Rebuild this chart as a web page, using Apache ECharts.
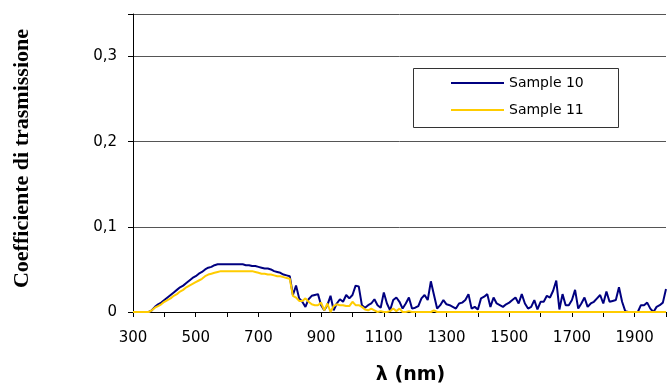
<!DOCTYPE html>
<html>
<head>
<meta charset="utf-8">
<script src="https://cdn.jsdelivr.net/npm/echarts@6/dist/echarts.min.js"></script>
<style>html,body{margin:0;padding:0;background:#fff}#c{width:667px;height:385px}</style>
</head>
<body>
<div id="c"></div>
<script>
// Wavelength grid (nm), 10 nm step
const WL_START = 300, WL_END = 2000, WL_STEP = 10;
const wavelengths = [];
for (let w = WL_START; w <= WL_END; w += WL_STEP) wavelengths.push(w);

const seriesNames = ['Sample 10', 'Sample 11'];

const sample10 = [
  0,0,0,0,0,0,
  0.002,0.006,0.009,0.011,0.014,0.017,0.020,0.023,0.026,0.029,0.031,0.034,0.037,0.040,0.042,0.045,0.047,0.050,0.052,0.053,0.055,0.056,
  0.056,0.056,0.056,0.056,0.056,0.056,0.056,0.056,0.055,0.055,0.054,0.054,0.053,0.052,0.051,0.051,0.050,0.048,0.047,0.046,0.044,0.043,0.042,
  0.020,0.031,0.016,0.012,0.006,0.015,0.019,0.020,0.021,0.008,0.002,0.008,0.019,0.002,0.010,0.015,0.012,0.020,0.016,0.020,
  0.031,0.030,0.008,0.005,0.008,0.010,0.015,0.008,0.005,0.023,
  0.010,0.002,0.014,0.017,0.012,0.004,0.010,0.017,0.004,0.005,
  0.007,0.016,0.020,0.014,0.036,0.020,0.004,0.008,0.014,0.009,
  0.008,0.006,0.004,0.010,0.011,0.014,0.021,0.004,0.006,0.003,
  0.016,0.018,0.021,0.006,0.017,0.010,0.008,0.006,0.009,0.011,
  0.014,0.017,0.010,0.021,0.010,0.004,0.006,0.014,0.003,0.012,
  0.012,0.019,0.017,0.025,0.037,0.003,0.021,0.008,0.008,0.014,
  0.026,0.004,0.010,0.017,0.006,0.010,0.012,0.016,0.020,0.010,
  0.024,0.012,0.013,0.014,0.029,0.012,0.001,0,0,0,
  0,0.008,0.008,0.011,0.004,0,0.006,0.008,0.011,0.027
];

const sample11 = [
  0,0,0,0,0,0,
  0.002,0.005,0.007,0.009,0.012,0.014,0.016,0.019,0.021,0.024,0.026,0.029,0.031,0.033,0.035,0.037,0.039,0.042,0.044,0.045,0.046,0.047,0.048,
  0.048,0.048,0.048,0.048,0.048,0.048,0.048,0.048,0.048,0.048,
  0.047,0.046,0.045,0.045,0.044,0.044,0.043,0.042,0.042,0.041,0.040,0.039,
  0.019,0.017,0.013,0.013,0.016,0.012,0.009,0.008,0.008,0.011,
  0.002,0.010,0,0.007,0.009,0.008,0.008,0.007,0.007,0.012,
  0.008,0.008,0.006,0.003,0.002,0.004,0.002,0,0.001,0,
  0,0.001,0.004,0.001,0.004,0,0,0.001,0,0,
  0,0,0,0,0,0.002,
  0,0,0,0,0,0,0,0,0,0,0,0,0,0,0,0,0,0,0,0,0,0,0,0,0,0,0,0,0,0,0,0,0,0,0,0,0,0,0,0,
  0,0,0,0,0,0,0,0,0,0,0,0,0,0,0,0,0,0,0,0,0,0,0,0,0,0,0,0,0,0,0,0,0,0
];

const yTicks = [0, 0.1, 0.2, 0.3];
const xLabelTicks = [300, 500, 700, 900, 1100, 1300, 1500, 1700, 1900];

const pair = (vals) => wavelengths.map((w, i) => [w, vals[i]]);

const chart = echarts.init(document.getElementById('c'), null, {renderer: 'canvas'});
const labelFont = {fontFamily: 'DejaVu Sans', fontSize: 15, color: '#000'};

chart.setOption({
  animation: false,
  backgroundColor: '#fff',
  grid: {left: 133, right: 1, top: 14, bottom: 73, containLabel: false, outerBoundsMode: 'none'},
  xAxis: {
    type: 'value', min: 300, max: 2000, interval: 100,
    name: 'λ (nm)', nameLocation: 'middle', nameGap: 54,
    nameTextStyle: {fontFamily: 'DejaVu Sans', fontWeight: 'bold', fontSize: 19, color: '#000', padding: [0, 0, 0, 22]},
    axisLine: {show: true, lineStyle: {color: '#000', width: 1}},
    axisTick: {show: true, inside: false, length: 5, lineStyle: {color: '#000'}},
    axisLabel: Object.assign({margin: 19, formatter: v => xLabelTicks.includes(v) ? String(v) : ''}, labelFont),
    splitLine: {show: false}
  },
  yAxis: {
    type: 'value', min: 0, max: 0.35, interval: 0.1,
    name: 'Coefficiente di trasmissione', nameLocation: 'middle', nameGap: 100, nameRotate: 90,
    nameTextStyle: {fontFamily: 'Liberation Serif', fontWeight: 'bold', fontSize: 22, color: '#000', padding: [0, 0, 0, 9]},
    axisLine: {show: true, lineStyle: {color: '#000', width: 1}},
    axisTick: {show: true, inside: false, length: 5, lineStyle: {color: '#000'}},
    axisLabel: Object.assign({margin: 16, formatter: v => {
      const t = yTicks.find(k => Math.abs(k - v) < 1e-9);
      return t === undefined ? '' : String(t).replace('.', ',');
    }}, labelFont),
    splitLine: {show: true, lineStyle: {color: '#555', width: 1}}
  },
  legend: {
    orient: 'vertical', left: 445, top: 71, itemWidth: 53, itemHeight: 14, itemGap: 13,
    itemStyle: {opacity: 0},
    textStyle: {fontFamily: 'DejaVu Sans', fontSize: 14, color: '#000'},
    data: seriesNames
  },
  graphic: [{
    type: 'rect', left: 413, top: 68, z: 5, silent: true,
    shape: {width: 205, height: 59},
    style: {fill: 'transparent', stroke: '#333', lineWidth: 1}
  }],
  series: [
    {name: seriesNames[0], type: 'line', data: pair(sample10), symbol: 'none', z: 3,
     lineStyle: {color: '#000080', width: 2}, itemStyle: {color: '#000080'}},
    {name: seriesNames[1], type: 'line', data: pair(sample11), symbol: 'none', z: 4,
     lineStyle: {color: '#FFCC00', width: 2}, itemStyle: {color: '#FFCC00'}}
  ]
});
</script>
</body>
</html>
